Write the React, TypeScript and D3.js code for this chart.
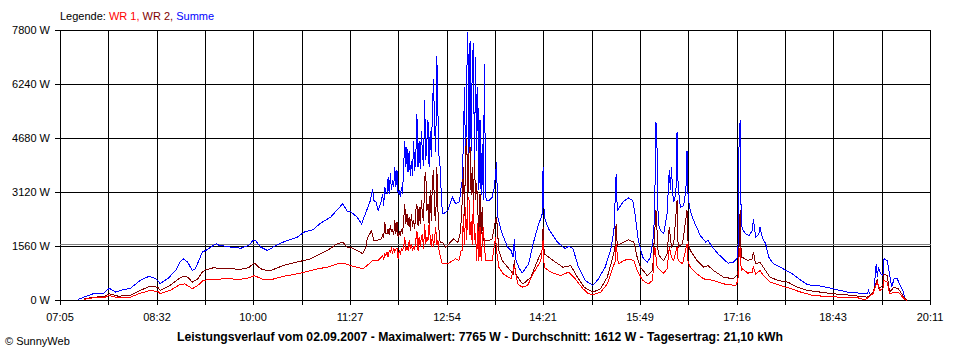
import React from 'react';
import * as d3 from 'd3';

const W = 960;
const H = 360;

const yTickValues = [0, 1560, 3120, 4680, 6240, 7800];
const yTickLabels = ['0 W', '1560 W', '3120 W', '4680 W', '6240 W', '7800 W'];
const xTickLabels = ['07:05', '08:32', '10:00', '11:27', '12:54', '14:21', '15:49', '17:16', '18:43', '20:11'];
const startTime = '07:05';
const endTime = '20:11';
const average = 1612;
const title = 'Leistungsverlauf vom 02.09.2007 - Maximalwert: 7765 W - Durchschnitt: 1612 W - Tagesertrag: 21,10 kWh';
const copyright = '\u00A9 SunnyWeb';

// Summe (blue)
const summe: [string, number][] = [
  ['07:21', 30], ['07:26', 95], ['07:35', 200], ['07:44', 210], ['07:49', 355], ['07:55', 240], ['07:59', 290],
  ['08:08', 350], ['08:17', 580], ['08:25', 700], ['08:31', 635], ['08:35', 490], ['08:42', 635], ['08:49', 865],
  ['08:53', 1105], ['08:56', 1205], ['09:00', 1105], ['09:04', 865], ['09:07', 925], ['09:10', 1155], ['09:13', 1395],
  ['09:18', 1475], ['09:22', 1570], ['09:26', 1640], ['09:28', 1600], ['09:39', 1540], ['09:48', 1510], ['09:55', 1590],
  ['09:59', 1735], ['10:01', 1735], ['10:06', 1540], ['10:12', 1445], ['10:17', 1540], ['10:26', 1685], ['10:39', 1830],
  ['10:45', 1975], ['10:53', 2040], ['11:00', 2235], ['11:09', 2405], ['11:13', 2550], ['11:20', 2795], ['11:24', 2580],
  ['11:27', 2570], ['11:33', 2405], ['11:37', 2215], ['11:41', 2550], ['11:45', 2890], ['11:47', 3225], ['11:48', 2890],
  ['11:50', 2840], ['11:52', 2600], ['11:55', 2890], ['11:56', 3080], ['11:57', 2740], ['11:58', 3275], ['11:59', 3080],
  ['12:00', 3080], ['12:01', 3560], ['12:02', 3080], ['12:03', 3670], ['12:04', 3180], ['12:05', 3465], ['12:06', 3275],
  ['12:07', 3850], ['12:08', 3275], ['12:09', 3755], ['12:10', 3080], ['12:11', 3180], ['12:12', 2985], ['12:13', 3270],
  ['12:14', 3080], ['12:15', 3850], ['12:16', 4620], ['12:17', 3850], ['12:18', 4430], ['12:19', 3700], ['12:20', 4330],
  ['12:21', 3610], ['12:22', 4040], ['12:23', 3610], ['12:24', 4620], ['12:25', 3750], ['12:26', 4140], ['12:27', 5390],
  ['12:28', 3850], ['12:29', 4620], ['12:30', 3800], ['12:31', 4910], ['12:32', 4240], ['12:33', 3900], ['12:34', 5780],
  ['12:35', 4045], ['12:36', 4620], ['12:37', 5200], ['12:38', 3850], ['12:39', 4900], ['12:40', 4140], ['12:41', 5500],
  ['12:42', 6405], ['12:43', 5005], ['12:44', 4300], ['12:45', 7050], ['12:46', 5400], ['12:47', 4140], ['12:48', 3850],
  ['12:49', 3080], ['12:50', 2505], ['12:51', 2505], ['12:55', 2600], ['12:59', 2985], ['13:02', 2795], ['13:05', 2840],
  ['13:06', 3000], ['13:07', 3300], ['13:08', 3465], ['13:09', 4620], ['13:10', 6155], ['13:11', 3755], ['13:12', 6440],
  ['13:13', 7765], ['13:14', 4045], ['13:15', 7510], ['13:16', 4330], ['13:17', 6845], ['13:18', 7425], ['13:19', 3900],
  ['13:20', 7020], ['13:21', 4330], ['13:22', 6155], ['13:23', 3180], ['13:24', 5200], ['13:25', 3035], ['13:26', 4535],
  ['13:27', 2890], ['13:28', 6845], ['13:29', 3035], ['13:30', 2890], ['13:32', 2890], ['13:35', 2985], ['13:37', 3275],
  ['13:39', 3995], ['13:40', 2405], ['13:44', 1925], ['13:49', 1540], ['13:52', 1445], ['13:54', 1250], ['13:55', 1790],
  ['13:56', 1215], ['13:59', 960], ['14:02', 790], ['14:08', 1060], ['14:12', 1640], ['14:17', 2215], ['14:20', 2455],
  ['14:21', 3850], ['14:22', 2405], ['14:26', 2070], ['14:34', 1685], ['14:41', 1495], ['14:44', 1570], ['14:48', 1495],
  ['14:53', 960], ['14:59', 580], ['15:06', 435], ['15:11', 625], ['15:17', 960], ['15:22', 1445], ['15:25', 2020],
  ['15:27', 3660], ['15:28', 2600], ['15:33', 2840], ['15:38', 2965], ['15:42', 2890], ['15:44', 2505], ['15:47', 1735],
  ['15:51', 1250], ['15:55', 1105], ['15:58', 1250], ['16:01', 1925], ['16:02', 3080], ['16:03', 5150], ['16:04', 4330],
  ['16:05', 2215], ['16:07', 2020], ['16:10', 1925], ['16:13', 2505], ['16:15', 3755], ['16:16', 3200], ['16:17', 3850],
  ['16:18', 3130], ['16:19', 2840], ['16:21', 3080], ['16:22', 4860], ['16:23', 3275], ['16:25', 2695], ['16:28', 2745],
  ['16:30', 3180], ['16:31', 4330], ['16:32', 2985], ['16:34', 2600], ['16:37', 2310], ['16:43', 1880], ['16:48', 1685],
  ['16:50', 1735], ['16:54', 1540], ['16:59', 1350], ['17:08', 1080], ['17:13', 1105], ['17:17', 1250], ['17:18', 4430],
  ['17:19', 5200], ['17:20', 2215], ['17:21', 2070], ['17:24', 1925], ['17:27', 1880], ['17:30', 2020], ['17:31', 2360],
  ['17:33', 1830], ['17:36', 1925], ['17:37', 2115], ['17:39', 1830], ['17:42', 1640], ['17:45', 1250], ['17:49', 1060],
  ['17:58', 915], ['18:06', 770], ['18:14', 580], ['18:20', 455], ['18:32', 415], ['18:43', 340], ['18:56', 240],
  ['19:08', 210], ['19:14', 195], ['19:15', 290], ['19:17', 145], ['19:19', 240], ['19:20', 340], ['19:22', 1060],
  ['19:23', 675], ['19:24', 960], ['19:26', 770], ['19:28', 720], ['19:29', 1205], ['19:32', 1155], ['19:34', 770],
  ['19:36', 385], ['19:38', 625], ['19:41', 625], ['19:43', 480], ['19:46', 290], ['19:48', 50], ['19:50', 0],
];

// WR 2 (dark red)
const wr2: [string, number][] = [
  ['07:26', 50], ['07:35', 95], ['07:44', 115], ['07:49', 195], ['07:57', 125], ['08:08', 145], ['08:17', 290],
  ['08:25', 405], ['08:33', 385], ['08:35', 290], ['08:44', 435], ['08:53', 655], ['08:56', 700], ['09:00', 675],
  ['09:04', 530], ['09:09', 625], ['09:13', 820], ['09:16', 885], ['09:23', 945], ['09:36', 915], ['09:48', 905],
  ['09:55', 945], ['09:59', 1060], ['10:01', 1060], ['10:04', 960], ['10:08', 885], ['10:15', 865], ['10:26', 1010],
  ['10:42', 1135], ['10:51', 1205], ['11:06', 1445], ['11:15', 1640], ['11:20', 1685], ['11:24', 1540], ['11:27', 1540],
  ['11:33', 1445], ['11:38', 1350], ['11:41', 1540], ['11:42', 1780], ['11:46', 2020], ['11:48', 1735], ['11:51', 1735],
  ['11:55', 1780], ['11:56', 1880], ['11:57', 1830], ['11:58', 2260], ['11:59', 1925], ['12:00', 1925], ['12:01', 2070],
  ['12:02', 1880], ['12:03', 2165], ['12:04', 1975], ['12:05', 2070], ['12:06', 1880], ['12:07', 2310], ['12:08', 1930],
  ['12:09', 2260], ['12:10', 1830], ['12:11', 1975], ['12:12', 1880], ['12:13', 2070], ['12:14', 1925], ['12:15', 2310],
  ['12:16', 2795], ['12:17', 2215], ['12:18', 2505], ['12:19', 2165], ['12:20', 2410], ['12:21', 2020], ['12:22', 2505],
  ['12:23', 2120], ['12:24', 2310], ['12:25', 2070], ['12:26', 2600], ['12:27', 2795], ['12:28', 2165], ['12:29', 2700],
  ['12:30', 2215], ['12:31', 2890], ['12:32', 2505], ['12:33', 2300], ['12:34', 3560], ['12:35', 3705], ['12:36', 2600],
  ['12:37', 2795], ['12:38', 2215], ['12:39', 3180], ['12:40', 2310], ['12:41', 3470], ['12:42', 3755], ['12:43', 2500],
  ['12:44', 2310], ['12:45', 3850], ['12:46', 2600], ['12:47', 2020], ['12:48', 1685], ['12:50', 1685], ['12:53', 1540],
  ['12:56', 1640], ['13:00', 1780], ['13:04', 1685], ['13:06', 1925], ['13:07', 2300], ['13:08', 2890], ['13:09', 3850],
  ['13:10', 2455], ['13:11', 4330], ['13:12', 4680], ['13:13', 2890], ['13:14', 4245], ['13:15', 4430], ['13:16', 3035],
  ['13:17', 3850], ['13:18', 2745], ['13:19', 4045], ['13:20', 2890], ['13:21', 3380], ['13:22', 2695], ['13:23', 1645],
  ['13:24', 3090], ['13:25', 1935], ['13:26', 2695], ['13:27', 1735], ['13:29', 1735], ['13:32', 1735], ['13:35', 1780],
  ['13:38', 2310], ['13:39', 2405], ['13:41', 1445], ['13:44', 1155], ['13:49', 960], ['13:54', 770], ['13:55', 1155],
  ['13:56', 790], ['14:01', 530], ['14:03', 480], ['14:10', 675], ['14:16', 1155], ['14:20', 1445], ['14:21', 2115],
  ['14:22', 1350], ['14:30', 1155], ['14:39', 960], ['14:46', 1010], ['14:52', 675], ['14:58', 385], ['15:02', 310],
  ['15:06', 240], ['15:13', 340], ['15:19', 675], ['15:24', 1250], ['15:26', 1540], ['15:27', 2215], ['15:28', 1590],
  ['15:34', 1685], ['15:38', 1755], ['15:43', 1685], ['15:46', 1250], ['15:49', 960], ['15:55', 720], ['16:00', 865],
  ['16:01', 1540], ['16:03', 2600], ['16:05', 1350], ['16:07', 1250], ['16:10', 1155], ['16:13', 1350], ['16:15', 2115],
  ['16:17', 1540], ['16:19', 1640], ['16:22', 2890], ['16:23', 1540], ['16:27', 1640], ['16:31', 2600], ['16:32', 1640],
  ['16:34', 1445], ['16:40', 1155], ['16:46', 960], ['16:50', 1010], ['16:55', 865], ['17:04', 675], ['17:13', 625],
  ['17:17', 770], ['17:18', 1540], ['17:19', 2600], ['17:20', 1250], ['17:21', 1250], ['17:26', 1155], ['17:30', 1205],
  ['17:31', 1395], ['17:33', 1060], ['17:37', 1105], ['17:40', 960], ['17:46', 675], ['17:53', 580], ['18:02', 530],
  ['18:11', 385], ['18:20', 290], ['18:32', 240], ['18:43', 195], ['19:01', 145], ['19:14', 95], ['19:19', 240],
  ['19:23', 625], ['19:24', 340], ['19:28', 435], ['19:29', 770], ['19:32', 720], ['19:34', 240], ['19:38', 385],
  ['19:42', 340], ['19:47', 95], ['19:50', 0],
];

// WR 1 (red)
const wr1: [string, number][] = [
  ['07:26', 30], ['07:35', 80], ['07:44', 80], ['07:49', 145], ['07:57', 80], ['08:08', 95], ['08:17', 210],
  ['08:26', 290], ['08:33', 260], ['08:35', 195], ['08:44', 290], ['08:53', 460], ['08:57', 480], ['09:01', 405],
  ['09:04', 340], ['09:09', 435], ['09:14', 580], ['09:22', 615], ['09:36', 625], ['09:48', 615], ['09:55', 655],
  ['10:00', 715], ['10:05', 655], ['10:08', 600], ['10:15', 600], ['10:26', 695], ['10:42', 790], ['10:57', 915],
  ['11:06', 960], ['11:15', 1060], ['11:20', 1080], ['11:27', 1010], ['11:33', 960], ['11:38', 915], ['11:42', 1010],
  ['11:47', 1155], ['11:52', 1155], ['11:55', 1250], ['11:56', 1300], ['11:57', 1200], ['11:58', 1350], ['11:59', 1300],
  ['12:00', 1390], ['12:01', 1250], ['12:02', 1445], ['12:03', 1400], ['12:04', 1490], ['12:05', 1350], ['12:06', 1520],
  ['12:07', 1400], ['12:08', 1490], ['12:09', 1520], ['12:10', 1205], ['12:11', 1445], ['12:12', 1350], ['12:13', 1490],
  ['12:14', 1445], ['12:15', 1540], ['12:16', 1830], ['12:17', 1445], ['12:18', 1540], ['12:19', 1445], ['12:20', 1735],
  ['12:21', 1490], ['12:22', 1640], ['12:23', 1445], ['12:24', 1540], ['12:25', 1490], ['12:26', 1735], ['12:27', 2020],
  ['12:28', 1445], ['12:29', 1830], ['12:30', 1540], ['12:31', 1830], ['12:32', 1925], ['12:33', 1490], ['12:34', 2215],
  ['12:35', 1640], ['12:36', 1830], ['12:37', 1735], ['12:38', 2215], ['12:39', 1830], ['12:40', 1540], ['12:41', 1925],
  ['12:42', 1540], ['12:43', 1830], ['12:44', 2115], ['12:45', 1590], ['12:46', 1735], ['12:47', 1445], ['12:48', 1300],
  ['12:49', 1155], ['12:50', 1060], ['12:55', 1060], ['12:57', 1105], ['13:02', 1205], ['13:05', 1155], ['13:07', 1445],
  ['13:08', 1445], ['13:09', 2510], ['13:10', 1590], ['13:11', 2695], ['13:12', 1735], ['13:13', 2890], ['13:14', 2985],
  ['13:15', 1880], ['13:16', 2310], ['13:17', 1590], ['13:18', 2890], ['13:19', 1735], ['13:20', 1935], ['13:21', 1155],
  ['13:22', 2225], ['13:23', 1155], ['13:24', 2115], ['13:25', 1155], ['13:27', 2115], ['13:29', 1155], ['13:32', 1155],
  ['13:35', 1155], ['13:38', 1830], ['13:39', 1445], ['13:41', 960], ['13:45', 770], ['13:52', 625], ['13:55', 1010],
  ['13:58', 480], ['14:02', 385], ['14:07', 435], ['14:12', 770], ['14:19', 1155], ['14:21', 1735], ['14:22', 960],
  ['14:28', 820], ['14:37', 720], ['14:44', 820], ['14:50', 625], ['14:57', 340], ['15:02', 195], ['15:06', 165],
  ['15:13', 240], ['15:19', 480], ['15:24', 960], ['15:26', 1105], ['15:27', 1640], ['15:29', 1060], ['15:34', 1155],
  ['15:38', 1195], ['15:43', 1155], ['15:46', 865], ['15:51', 580], ['15:56', 480], ['16:00', 580], ['16:01', 1250],
  ['16:02', 1540], ['16:04', 960], ['16:07', 865], ['16:10', 790], ['16:13', 915], ['16:15', 1540], ['16:17', 1250],
  ['16:19', 1155], ['16:22', 1540], ['16:23', 1155], ['16:27', 1060], ['16:31', 1640], ['16:32', 1105], ['16:34', 960],
  ['16:40', 770], ['16:46', 625], ['16:55', 580], ['17:04', 480], ['17:15', 435], ['17:17', 580], ['17:18', 1250],
  ['17:19', 1540], ['17:20', 865], ['17:21', 915], ['17:26', 790], ['17:30', 820], ['17:31', 980], ['17:33', 770],
  ['17:37', 865], ['17:40', 720], ['17:46', 530], ['17:55', 435], ['18:05', 340], ['18:14', 240], ['18:25', 145],
  ['18:38', 115], ['18:50', 95], ['19:05', 80], ['19:12', 20], ['19:19', 195], ['19:21', 385], ['19:23', 530],
  ['19:25', 290], ['19:28', 340], ['19:29', 580], ['19:32', 530], ['19:34', 195], ['19:38', 240], ['19:42', 240],
  ['19:47', 50], ['19:50', 0],
];

const FONT = '"Liberation Sans", Arial, sans-serif';

const toMin = (s: string) => {
  const [h, m] = s.split(':').map(Number);
  return h * 60 + m;
};

export default function App() {
  const x = d3.scaleLinear().domain([toMin(startTime), toMin(endTime)]).range([60, 930]);
  const y = d3.scaleLinear().domain([0, 7800]).range([300, 30]);

  const nGrid = 18;
  const gridTimes = d3.range(nGrid + 1).map(
    (k) => toMin(startTime) + (k * (toMin(endTime) - toMin(startTime))) / nGrid
  );
  const px = (v: number) => Math.round(v) + 0.5;

  const line = d3
    .line<[string, number]>()
    .x((d) => x(toMin(d[0])) + 0.5)
    .y((d) => y(d[1]) + 0.5);

  const series = [
    { data: summe, color: '#0000ff' },
    { data: wr2, color: '#800000' },
    { data: wr1, color: '#ff0000' },
  ];

  return (
    <svg
      width={W}
      height={H}
      style={{ position: 'absolute', left: 0, top: 0, background: '#fff' }}
      fontFamily={FONT}
    >
      <rect x={0} y={0} width={W} height={H} fill="#fff" />

      {/* legend */}
      <text x={60} y={20} fontSize={11} fill="#000">
        Legende: <tspan fill="#ff0000">WR 1,</tspan>
        <tspan fill="#800000"> WR 2,</tspan>
        <tspan fill="#0000ff"> Summe</tspan>
      </text>

      {/* horizontal grid */}
      <g shapeRendering="crispEdges">
        {yTickValues.map((v) => (
          <line key={'h' + v} x1={55} x2={931} y1={px(y(v))} y2={px(y(v))} stroke="#000" strokeWidth={1} />
        ))}
        {gridTimes.map((t, k) => (
          <line key={'v' + k} x1={px(x(t))} x2={px(x(t))} y1={30} y2={305} stroke="#000" strokeWidth={1} />
        ))}
        <line
          x1={60}
          x2={931}
          y1={px(y(average)) - 0}
          y2={px(y(average)) - 0}
          stroke="#808080"
          strokeWidth={1}
        />
      </g>

      {/* y labels */}
      {yTickValues.map((v, i) => (
        <text key={'yl' + v} x={50} y={Math.round(y(v)) + 4} fontSize={11} textAnchor="end" fill="#000">
          {yTickLabels[i]}
        </text>
      ))}

      {/* x labels */}
      {xTickLabels.map((lab, i) => (
        <text key={'xl' + i} x={Math.round(x(gridTimes[i * 2]))} y={321} fontSize={11} textAnchor="middle" fill="#000">
          {lab}
        </text>
      ))}

      {/* data */}
      <g shapeRendering="crispEdges" fill="none">
        {series.map((s, i) => (
          <path key={'s' + i} d={line(s.data) || ''} stroke={s.color} strokeWidth={1} />
        ))}
      </g>

      {/* title */}
      <text
        x={480}
        y={341}
        fontSize={12.5}
        fontWeight="bold"
        textAnchor="middle"
        textLength={606}
        lengthAdjust="spacingAndGlyphs"
        fill="#000"
      >
        {title}
      </text>
      <text x={5} y={345} fontSize={11} fill="#000">
        {copyright}
      </text>
    </svg>
  );
}
